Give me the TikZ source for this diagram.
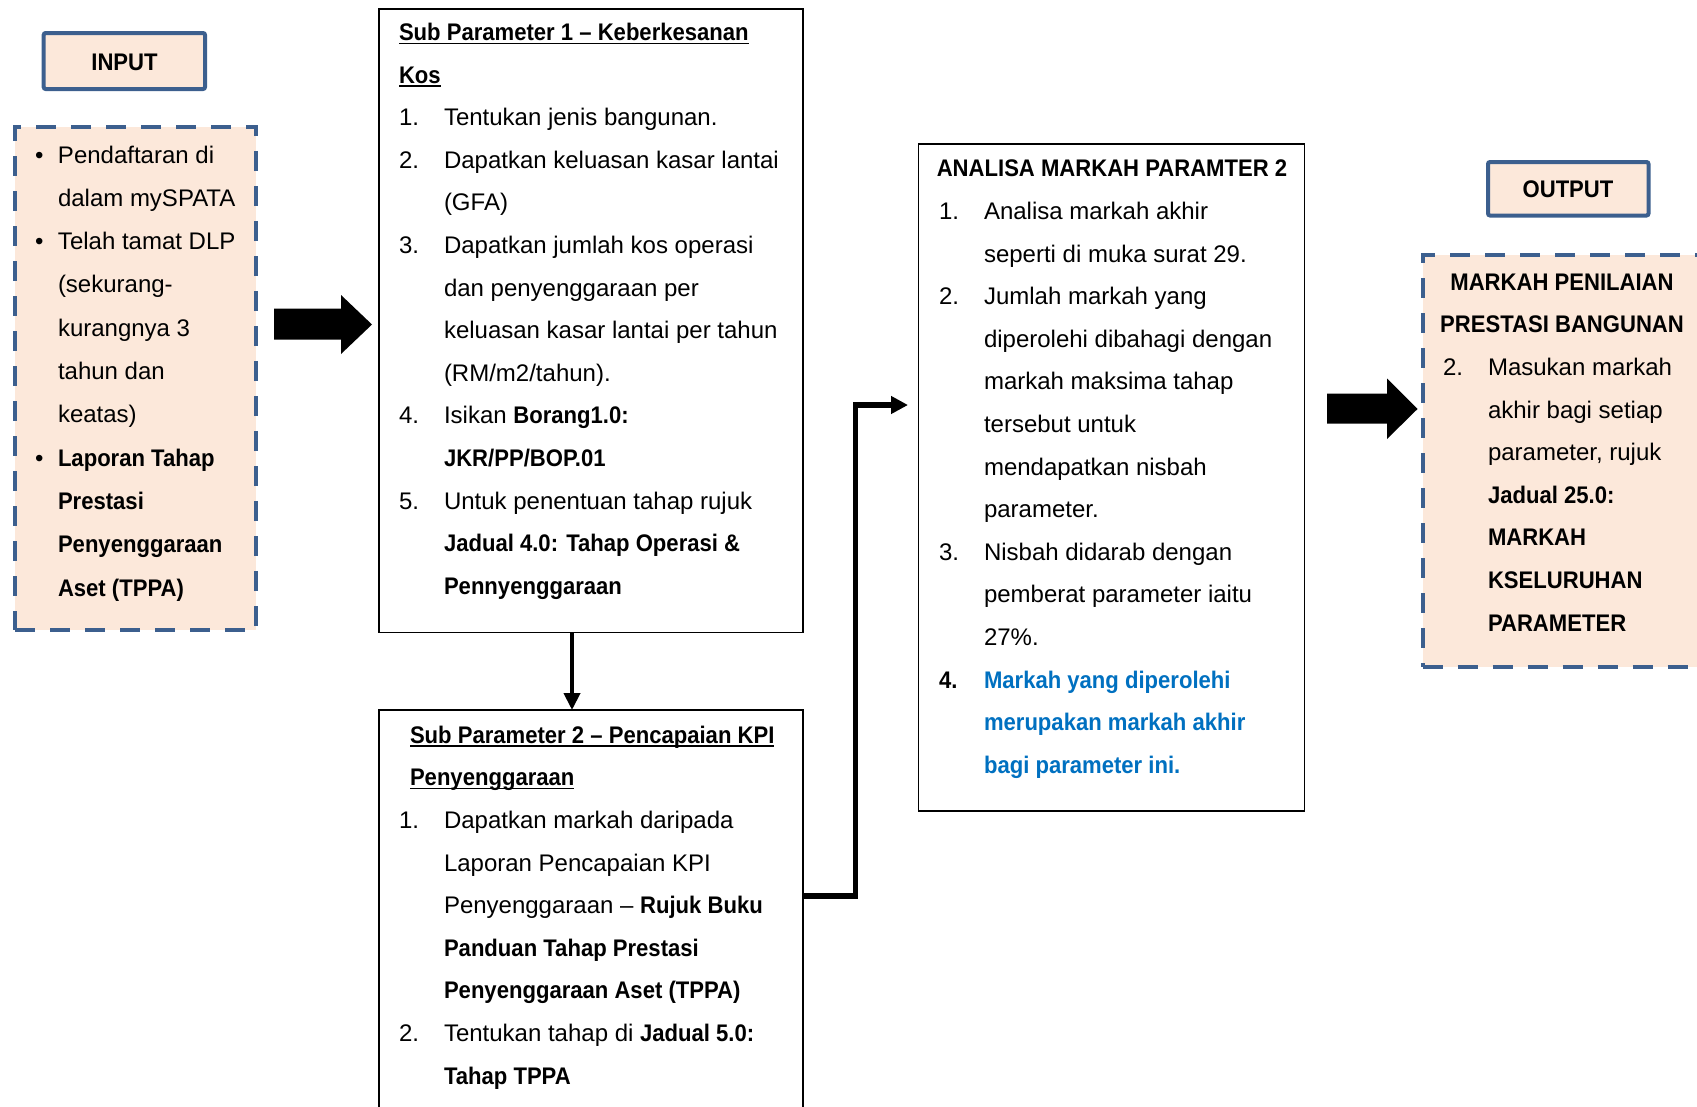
\documentclass[tikz,border=0pt]{standalone}
\usepackage{fontspec}
\setmainfont{Liberation Sans}[BoldFeatures={FakeStretch=0.92}]
\usetikzlibrary{arrows.meta}
\definecolor{bordblue}{RGB}{60,95,142}
\definecolor{peach}{RGB}{252,232,218}
\definecolor{textblue}{RGB}{0,112,192}
\newcommand\myul[1]{\setbox0\hbox{#1}\rlap{\rule[-3.5pt]{\wd0}{1.5pt}}\box0}
\newcommand\itm[1]{\makebox[45pt][l]{#1}}
\newcommand\cont{\hspace*{45pt}}
\newcommand\bul{\makebox[23pt][l]{\textbullet}}
\newcommand\ind{\hspace*{23pt}}
\begin{document}
\begin{tikzpicture}[x=1pt,y=-1pt,
  font=\fontsize{24}{42.6}\selectfont,
  solidbox/.style={draw=black, line width=1.6pt, inner sep=0pt, outer sep=0pt, anchor=north west},
  labelbox/.style={draw=bordblue, fill=peach, line width=4pt, rounded corners=2pt, inner sep=0pt, outer sep=0pt, anchor=north west},
  dbox/.style={draw=bordblue, fill=peach, line width=4pt, dash pattern=on 20pt off 15pt, inner sep=0pt, outer sep=0pt, anchor=north west},
  txt/.style={inner sep=0pt, outer sep=0pt, align=left, anchor=north west},
  conn/.style={line width=4pt, -{Triangle[length=17pt,width=16pt]}}
]
\useasboundingbox (0,0) rectangle (1697,1106);

% label boxes
\node[labelbox, minimum width=161.3pt, minimum height=56pt] (inlabel) at (43.7,33) {};
\node[inner sep=0pt, anchor=base, font=\fontsize{24}{42.6}\selectfont\bfseries] (intext) at (124.5,70.7) {INPUT};
\node[labelbox, minimum width=160.5pt, minimum height=53.5pt] (outlabel) at (1488,162) {};
\node[inner sep=0pt, anchor=base, font=\fontsize{24}{42.6}\selectfont\bfseries] (outtext) at (1568,197.3) {OUTPUT};

% input dashed box
\node[dbox, minimum width=241pt, minimum height=503.5pt] (inbox) at (15,126.5) {};
\node[txt, font=\fontsize{24}{43.3}\selectfont] (intxt) at (35,163-30.31) {\strut\bul Pendaftaran di\\
\ind dalam mySPATA\\
\bul Telah tamat DLP\\
\ind(sekurang-\\
\ind kurangnya 3\\
\ind tahun dan\\
\ind keatas)\\
\bul\textbf{Laporan Tahap}\\
\ind\textbf{Prestasi}\\
\ind\textbf{Penyenggaraan}\\
\ind\textbf{Aset (TPPA)}};

% sub parameter 1
\node[solidbox, minimum width=424pt, minimum height=623.5pt] (sp1) at (379,9) {};
\node[txt] (sp1txt) at (399,40.5-29.82) {\strut\myul{\bfseries Sub Parameter 1 – Keberkesanan}\\
\myul{\bfseries Kos}\\
\itm{1.}Tentukan jenis bangunan.\\
\itm{2.}Dapatkan keluasan kasar lantai\\
\cont(GFA)\\
\itm{3.}Dapatkan jumlah kos operasi\\
\cont dan penyenggaraan per\\
\cont keluasan kasar lantai per tahun\\
\cont(RM/m2/tahun).\\
\itm{4.}Isikan \textbf{Borang1.0:}\\
\cont\textbf{JKR/PP/BOP.01}\\
\itm{5.}Untuk penentuan tahap rujuk\\
\cont\textbf{Jadual 4.0: Tahap Operasi \&}\\
\cont\textbf{Pennyenggaraan}};

% sub parameter 2
\node[solidbox, minimum width=424pt, minimum height=460pt] (sp2) at (379,710) {};
\node[txt] (sp2txt) at (399,743.3-29.82) {\hspace*{11pt}\strut\myul{\bfseries Sub Parameter 2 – Pencapaian KPI}\\
\hspace*{11pt}\myul{\bfseries Penyenggaraan}\\
\itm{1.}Dapatkan markah daripada\\
\cont Laporan Pencapaian KPI\\
\cont Penyenggaraan – \textbf{Rujuk Buku}\\
\cont\textbf{Panduan Tahap Prestasi}\\
\cont\textbf{Penyenggaraan Aset (TPPA)}\\
\itm{2.}Tentukan tahap di \textbf{Jadual 5.0:}\\
\cont\textbf{Tahap TPPA}};

% analisa
\node[solidbox, minimum width=386pt, minimum height=667pt] (ana) at (918.5,144) {};
\node[inner sep=0pt, anchor=base, font=\fontsize{24}{42.6}\selectfont\bfseries] (anahead) at (1112,176.9) {ANALISA MARKAH PARAMTER 2};
\node[txt] (anatxt) at (939,219.5-29.82) {\strut\itm{1.}Analisa markah akhir\\
\cont seperti di muka surat 29.\\
\itm{2.}Jumlah markah yang\\
\cont diperolehi dibahagi dengan\\
\cont markah maksima tahap\\
\cont tersebut untuk\\
\cont mendapatkan nisbah\\
\cont parameter.\\
\itm{3.}Nisbah didarab dengan\\
\cont pemberat parameter iaitu\\
\cont 27\%.\\
\itm{\textbf{4.}}\textbf{\color{textblue}Markah yang diperolehi}\\
\cont\textbf{\color{textblue}merupakan markah akhir}\\
\cont\textbf{\color{textblue}bagi parameter ini.}};

% output dashed box
\node[dbox, minimum width=290pt, minimum height=412pt] (outbox) at (1422.5,255) {};
\node[inner sep=0pt, outer sep=0pt, align=center, anchor=north, font=\fontsize{24}{42.6}\selectfont\bfseries] (outhead) at (1562,290-29.82) {\strut MARKAH PENILAIAN\\PRESTASI BANGUNAN};
\node[txt] (outtxt) at (1443,375.5-29.82) {\strut\itm{2.}Masukan markah\\
\cont akhir bagi setiap\\
\cont parameter, rujuk\\
\cont\textbf{Jadual 25.0:}\\
\cont\textbf{MARKAH}\\
\cont\textbf{KSELURUHAN}\\
\cont\textbf{PARAMETER}};

% fat arrows
\fill[black] (274,308.5) -- (341,308.5) -- (341,295) -- (372,324.5) -- (341,354) -- (341,339.5) -- (274,339.5) -- cycle;
\fill[black] (1327,393.5) -- (1387,393.5) -- (1387,378.5) -- (1417.5,409) -- (1387,439) -- (1387,423.5) -- (1327,423.5) -- cycle;

% connectors
\coordinate (d1) at (572,632.5);
\draw[conn] (d1) -- (d1 |- sp2.north);
\coordinate (e2) at (908,405);
\draw[line width=5.5pt, -{Triangle[length=17pt,width=17pt]}] (sp2.north east) ++(0,186) -- ++(52.5,0) |- (e2);
\end{tikzpicture}
\end{document}
